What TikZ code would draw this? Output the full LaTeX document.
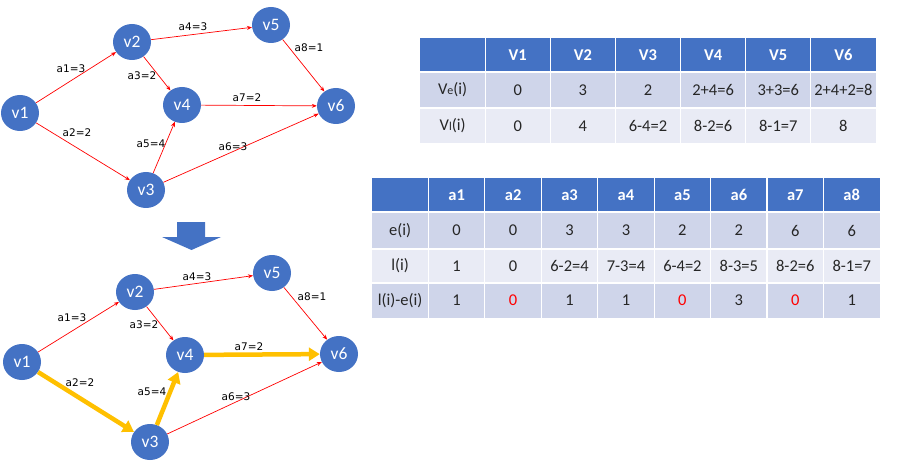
\documentclass[tikz,border=0pt]{standalone}
\usepackage{fontspec}
\setmainfont{Carlito}
\newfontfamily\lblfont{DejaVu Sans}
\usetikzlibrary{arrows.meta,shapes.geometric}
\definecolor{vblue}{HTML}{4472C4}
\definecolor{rowa}{HTML}{CFD5EA}
\definecolor{rowb}{HTML}{E9EBF5}
\definecolor{critc}{HTML}{FFC000}
\definecolor{cellt}{HTML}{262626}
\tikzset{
	vertex/.style={ellipse,fill=vblue,minimum width=38pt,minimum height=36pt,inner sep=0pt,text=white,font=\fontsize{17.5}{17.5}\selectfont},
	edge/.style={draw=red,line width=0.7pt,-{Stealth[length=5pt,width=4pt]}},
	critedge/.style={draw=critc,line width=4.5pt,-{Triangle[length=11pt,width=13pt]}},
	lbl/.style={font=\lblfont\fontsize{10.5}{10.5}\selectfont,inner sep=0pt},
	head/.style={text=white,font=\fontsize{16.5}{16.5}\selectfont\bfseries,inner sep=0pt},
	cell/.style={text=cellt,font=\fontsize{16.5}{16.5}\selectfont,inner sep=0pt}
}
\newcommand{\sbl}[1]{{\fontsize{12}{12}\selectfont #1}}
\begin{document}
\begin{tikzpicture}[x=1pt,y=-1pt]
	\useasboundingbox (0,0) rectangle (899,465);

	% top graph
	\node[vertex] (v1) at (20,113) {v1};
	\node[vertex] (v2) at (132,42) {v2};
	\node[vertex] (v3) at (146,190) {v3};
	\node[vertex] (v4) at (182,105) {v4};
	\node[vertex] (v5) at (271,25) {v5};
	\node[vertex] (v6) at (336,106) {v6};

	\draw[edge] (v1) -- (v2);
	\draw[edge] (v1) -- (v3);
	\draw[edge] (v2) -- (v4);
	\draw[edge] (v2) -- (v5);
	\draw[edge] (v3) -- (v4);
	\draw[edge] (v3) -- (v6);
	\draw[edge] (v4) -- (v6);
	\draw[edge] (v5) -- (v6);

	\node[lbl] (la1) at (71,69) {a1=3};
	\node[lbl] (la2) at (77,133) {a2=2};
	\node[lbl] (la3) at (142,76) {a3=2};
	\node[lbl] (la4) at (193,27) {a4=3};
	\node[lbl] (la5) at (151,144) {a5=4};
	\node[lbl] (la6) at (233,147) {a6=3};
	\node[lbl] (la7) at (247,98) {a7=2};
	\node[lbl] (la8) at (309,48) {a8=1};

	% block arrow
	\fill[vblue] (177,222) -- (205,222) -- (205,237) -- (221,237) -- (191.5,250) -- (162,237) -- (177,237) -- cycle;

	% bottom graph
	\node[vertex] (w1) at (22,362) {v1};
	\node[vertex] (w2) at (135,292) {v2};
	\node[vertex] (w3) at (150,442) {v3};
	\node[vertex] (w4) at (185,355) {v4};
	\node[vertex] (w5) at (272,273) {v5};
	\node[vertex] (w6) at (339,354) {v6};

	\draw[edge] (w1) -- (w2);
	\draw[critedge] (w1) -- (w3);
	\draw[edge] (w2) -- (w4);
	\draw[edge] (w2) -- (w5);
	\draw[critedge] (w3) -- (w4);
	\draw[edge] (w3) -- (w6);
	\draw[critedge] (w4) -- (w6);
	\draw[edge] (w5) -- (w6);

	\node[lbl] (lb1) at (72,318) {a1=3};
	\node[lbl] (lb2) at (80,383) {a2=2};
	\node[lbl] (lb3) at (144,325) {a3=2};
	\node[lbl] (lb4) at (197,277) {a4=3};
	\node[lbl] (lb5) at (152,392) {a5=4};
	\node[lbl] (lb6) at (236,397) {a6=3};
	\node[lbl] (lb7) at (249,347) {a7=2};
	\node[lbl] (lb8) at (312,297) {a8=1};

	% vertex table
	\fill[vblue] (420,38) rectangle (876,72);
	\fill[rowa] (420,72) rectangle (876,108);
	\fill[rowb] (420,108) rectangle (876,143);
	\foreach \i in {1,...,6}
		\draw[white,line width=1.2pt] (420+\i*65.14,38) -- (420+\i*65.14,143);
	\draw[white,line width=2.5pt] (420,72) -- (876,72);
	\draw[white,line width=1.2pt] (420,108) -- (876,108);

	\foreach \t [count=\c] in {V1,V2,V3,V4,V5,V6}
		\node[head] (vh\c) at (420+\c*65.14+32.57,55) {\t};
	\node[cell] (ve0) at (452.6,90) {V\sbl{e}(i)};
	\foreach \t [count=\c] in {0,3,2,2+4=6,3+3=6,2+4+2=8}
		\node[cell] (ve\c) at (420+\c*65.14+32.57,90) {\t};
	\node[cell] (vl0) at (452.6,126) {V\sbl{l}(i)};
	\foreach \t [count=\c] in {0,4,6-4=2,8-2=6,8-1=7,8}
		\node[cell] (vl\c) at (420+\c*65.14+32.57,126) {\t};

	% activity table
	\fill[vblue] (372,178) rectangle (880,212);
	\fill[rowa] (372,212) rectangle (880,249);
	\fill[rowb] (372,249) rectangle (880,283);
	\fill[rowa] (372,283) rectangle (880,318);
	\foreach \i in {1,...,8}
		\draw[white,line width=1.2pt] (372+\i*56.44,178) -- (372+\i*56.44,318);
	\draw[white,line width=2.5pt] (372,212) -- (880,212);
	\draw[white,line width=1.2pt] (372,249) -- (880,249);
	\draw[white,line width=1.2pt] (372,283) -- (880,283);

	\foreach \t [count=\c] in {a1,a2,a3,a4,a5,a6,a7,a8}
		\node[head] (ah\c) at (372+\c*56.44+28.22,195) {\t};
	\node[cell] (ae0) at (400.2,230.5) {e(i)};
	\foreach \t [count=\c] in {0,0,3,3,2,2,6,6}
		\node[cell] (ae\c) at (372+\c*56.44+28.22,230.5) {\t};
	\node[cell] (al0) at (400.2,266) {l(i)};
	\foreach \t [count=\c] in {1,0,6-2=4,7-3=4,6-4=2,8-3=5,8-2=6,8-1=7}
		\node[cell] (al\c) at (372+\c*56.44+28.22,266) {\t};
	\node[cell] (ad0) at (400.2,300.5) {l(i)-e(i)};
	\foreach \t [count=\c] in {1,{\color{red}0},1,1,{\color{red}0},3,{\color{red}0},1}
		\node[cell] (ad\c) at (372+\c*56.44+28.22,300.5) {\t};
\end{tikzpicture}
\end{document}
